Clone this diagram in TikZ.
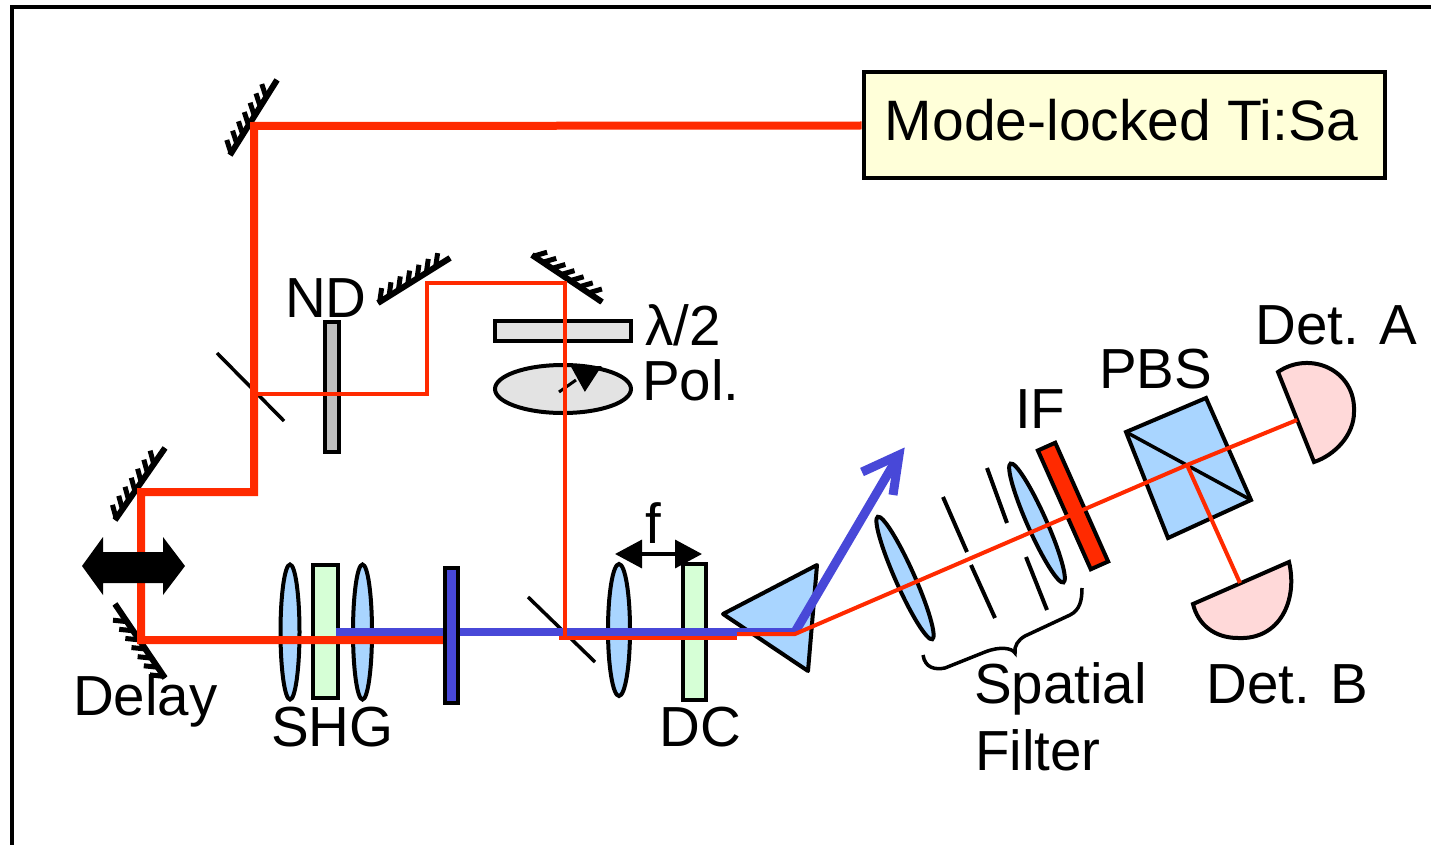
\documentclass[tikz,border=0pt]{standalone}
\usepackage{fontspec}
\setmainfont{Liberation Sans}
\usetikzlibrary{shapes.geometric, arrows.meta, decorations.pathreplacing}
\definecolor{beamRed}{HTML}{FF2A00}
\definecolor{beamBlue}{HTML}{4848D8}
\definecolor{lensBlue}{HTML}{A9D5FF}
\definecolor{xtalGreen}{HTML}{D6FFD6}
\definecolor{laserYellow}{HTML}{FFFFD9}
\definecolor{detPink}{HTML}{FFD9D9}

\begin{document}
\begin{tikzpicture}[
  x=1pt, y=-1pt,
  optic/.style={draw=black, line width=4pt, inner sep=0pt},
  lens/.style={optic, ellipse, fill=lensBlue, minimum width=19pt, minimum height=135pt},
  plate/.style={optic, rectangle, minimum width=#1, minimum height=133pt},
  splitter/.style={draw=black, line width=3.5pt},
  slit/.style={draw=black, line width=4pt},
  mirror/.style={draw=black, line width=6pt, postaction={draw, line width=5pt, decorate,
      decoration={border, segment length=11pt, amplitude=14pt, angle=50, pre length=2pt, post length=2pt}}},
  redthick/.style={draw=beamRed, line width=8pt},
  redthin/.style={draw=beamRed, line width=4pt},
  bluebeam/.style={draw=beamBlue, line width=8pt},
  lbl/.style={anchor=base west, inner sep=0pt, text=black, font=\fontsize{56.5}{60}\selectfont},
]
\useasboundingbox (0,0) rectangle (1431,845);

\coordinate (frameA) at (12,845);
\coordinate (frameB) at (12,7);
\coordinate (frameC) at (1431,7);
\draw[black, line width=4pt] (frameA) -- (frameB) -- (frameC);

\node[optic, rectangle, fill=laserYellow, minimum width=521pt, minimum height=106pt, text depth=12pt, font=\fontsize{57}{60}\selectfont] (laser) at (1124,125.5) {Mode-locked Ti:Sa\hspace*{5pt}};

\coordinate (foldA) at (254,126);
\coordinate (foldB) at (254,492);
\coordinate (foldC) at (141,492);
\coordinate (foldD) at (141,640);
\coordinate (blockHit) at (447,640);
\coordinate (bsA) at (254,394);
\coordinate (foldE) at (427,394);
\coordinate (foldF) at (427,283);
\coordinate (foldG) at (565,283);
\coordinate (bsB) at (565,638);
\coordinate (bsC) at (559,638);
\coordinate (dcEnd) at (737,638);
\coordinate (prismIn) at (737,634);
\coordinate (prismOut) at (795,634);
\coordinate (pbsHit) at (1187,465);
\coordinate (blueStart) at (336,632);
\coordinate (blueTurn) at (795,632);
\coordinate (blueTip) at (899,455);

\draw[mirror] (230,155) -- (277,80);
\draw[mirror] (115,520) -- (165,448);
\draw[mirror] (165,678) -- (115,604);
\draw[mirror] (378,303) -- (450,258);
\draw[mirror] (532,255) -- (602,302);
\draw[splitter] (217,353) -- (284,421);
\draw[splitter] (528,597) -- (595,662);

\node[lens] (shgL) at (290,632) {};
\node[plate=25pt, fill=xtalGreen] (shg) at (325.5,631.5) {};
\node[lens] (shgR) at (362.5,632) {};
\node[plate=14pt, fill=gray!50, minimum height=130pt] (nd) at (332,386.5) {};
\node[plate=136pt, fill=gray!22, minimum height=20pt] (halfwave) at (563,331) {};
\node[optic, ellipse, fill=gray!22, minimum width=136pt, minimum height=48pt] (pol) at (563,389) {};
\node[lens, minimum width=22pt, minimum height=132pt] (focus) at (619,630) {};
\node[plate=23pt, fill=xtalGreen, minimum height=136pt] (dc) at (694.5,632) {};

\draw[optic, fill=black] (574,368) -- (598,368) -- (585,388) -- cycle;
\draw[black, line width=3pt] (559,392) -- (576,380);

\draw[optic, fill=lensBlue, line join=round] (723,614) -- (817,565) -- (808,671) -- cycle;

\node[lens, rotate=24, minimum height=134pt] (sfA) at (905,578) {};
\node[lens, rotate=24, minimum height=130pt] (sfB) at (1037,523) {};
\draw[slit] (943,497) -- (967,552);
\draw[slit] (971,565) -- (995,618);
\draw[slit] (987,468) -- (1007,523);
\draw[slit] (1026,557) -- (1047,610);
\node[optic, rectangle, rotate=24, fill=beamRed, minimum width=19pt, minimum height=130pt] (filter) at (1073,506) {};

\draw[optic, fill=lensBlue] (1126,432) -- (1206,398) -- (1251,500) -- (1168,538) -- cycle;
\draw[black, line width=3.5pt] (1126,432) -- (1251,500);

\draw[optic, fill=detPink] (1278,372) .. controls (1310,350) and (1356,370) .. (1354,412) .. controls (1354,435) and (1335,455) .. (1314,462) -- cycle;
\draw[optic, fill=detPink] (1193,604) -- (1289,562) .. controls (1298,600) and (1280,640) .. (1238,638) .. controls (1215,638) and (1198,625) .. (1193,604) -- cycle;
\coordinate (detA) at (1297,420);
\coordinate (detB) at (1240,583);

\draw[black, line width=3.5pt] (923,655) .. controls (925,668) and (935,670) .. (945,668) -- (985,652) .. controls (1000,646) and (1012,648) .. (1015,653) .. controls (1014,646) and (1018,640) .. (1025,636) -- (1070,615) .. controls (1080,610) and (1082,600) .. (1082,588);

\draw[bluebeam] (blueStart) -- (blueTurn);
\draw[bluebeam, line width=9pt, line join=miter] (blueTurn) -- (blueTip);
\draw[bluebeam, line width=9pt, line join=miter] (862,472) -- (blueTip) -- (893,495);

\draw[redthick, line join=miter] (laser.west) -- (foldA) -- (foldB) -- (foldC) -- (foldD) -- (blockHit);
\draw[redthin, line join=miter] (bsA) -- (foldE) -- (foldF) -- (foldG) -- (bsB);
\draw[redthin] (bsC) -- (dcEnd);
\draw[redthin] (prismIn) -- (prismOut) -- (pbsHit) -- (detA);
\draw[redthin] (pbsHit) -- (detB);

\node[plate=13pt, fill=beamBlue, minimum height=135pt] (block) at (451.5,635.5) {};

\fill[black] (82,566) -- (103,537) -- (103,552) -- (163,552) -- (163,537) -- (185,566) -- (163,595) -- (163,583) -- (103,583) -- (103,595) -- cycle;

\coordinate (spanL) at (615,554);
\coordinate (spanR) at (702,554);
\draw[{Triangle[length=27pt, width=28pt]}-{Triangle[length=27pt, width=28pt]}, black, line width=3.5pt] (spanL) -- (spanR);

\node[lbl] (delaylbl) at (73,715) {Delay};
\node[lbl] (shglbl) at (271,746) {SHG};
\node[lbl] (ndlbl) at (285,317) {ND};
\node[lbl] (halflbl) at (645,345) {λ/2};
\node[lbl] (pollbl) at (642,400) {Pol.};
\node[lbl] (flbl) at (645,543) {f};
\node[lbl] (dclbl) at (659,746) {DC};
\node[lbl] (iflbl) at (1015,428) {IF};
\node[lbl] (pbslbl) at (1099,388) {PBS};
\node[lbl] (detalbl) at (1255,344) {Det. A};
\node[lbl] (detblbl) at (1206,703) {Det. B};
\node[lbl] (spatiallbl) at (974,703) {Spatial};
\node[lbl] (filterlbl) at (975,770) {Filter};
\end{tikzpicture}
\end{document}
